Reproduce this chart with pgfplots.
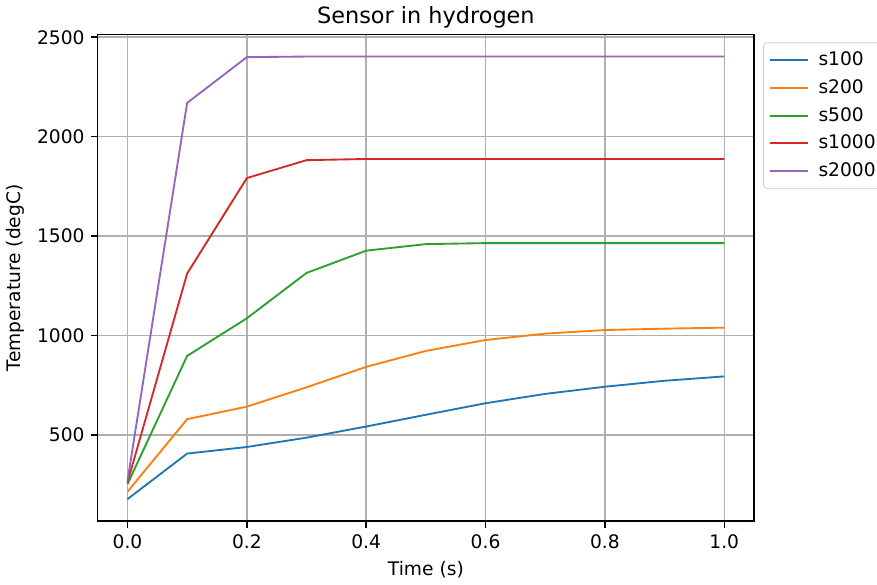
\documentclass[border=0pt]{standalone}
\usepackage{fontspec}
\setmainfont{DejaVu Sans}
\usepackage{pgfplots}
\pgfplotsset{compat=1.18}

\definecolor{c0}{HTML}{1F77B4}
\definecolor{c1}{HTML}{FF7F0E}
\definecolor{c2}{HTML}{2CA02C}
\definecolor{c3}{HTML}{D62728}
\definecolor{c4}{HTML}{9467BD}

\begin{document}
\begin{tikzpicture}
\begin{axis}[
    scale only axis,
    width=352pt, height=261pt,
    xmin=-0.05, xmax=1.05,
    ymin=67, ymax=2514,
    xtick={0,0.2,0.4,0.6,0.8,1.0},
    ytick={500,1000,1500,2000,2500},
    xticklabel style={/pgf/number format/.cd, fixed, fixed zerofill, precision=1},
    yticklabel style={/pgf/number format/.cd, 1000 sep={}},
    /pgf/number format/assume math mode=true,
    tick pos=left,
    tick align=outside,
    major tick length=3.5pt,
    tick style={black, line width=0.8pt},
    axis line style={black, line width=0.8pt},
    grid=major,
    major grid style={color=black!31, line width=0.8pt},
    title={Sensor in hydrogen},
    title style={font=\fontsize{12}{14}\selectfont, yshift=-6pt},
    xlabel={Time (s)},
    ylabel={Temperature (degC)},
    label style={font=\fontsize{10}{12}\selectfont},
    ticklabel style={font=\fontsize{10}{12}\selectfont},
    legend style={at={(1.0137,0.9836)}, anchor=north west,
        draw=black!20, rounded corners=2pt,
        font=\fontsize{10}{12}\selectfont,
        row sep=1.9pt, inner xsep=3pt, inner ysep=3pt},
    legend cell align=left,
    legend image code/.code={\draw[#1, line width=1.05pt] (0pt,0pt) -- (20.3pt,0pt);
        \path (23.5pt,0pt);},
]
\addplot[c0, line width=1pt] coordinates {
    (0.0,178) (0.1,407) (0.2,440) (0.3,487) (0.4,543) (0.5,602)
    (0.6,660) (0.7,707) (0.8,743) (0.9,773) (1.0,795)
};
\addlegendentry{s100}
\addplot[c1, line width=1pt] coordinates {
    (0.0,215) (0.1,580) (0.2,643) (0.3,740) (0.4,843) (0.5,923)
    (0.6,978) (0.7,1010) (0.8,1028) (0.9,1035) (1.0,1040)
};
\addlegendentry{s200}
\addplot[c2, line width=1pt] coordinates {
    (0.0,253) (0.1,898) (0.2,1087) (0.3,1315) (0.4,1427) (0.5,1460)
    (0.6,1465) (0.7,1465) (0.8,1465) (0.9,1465) (1.0,1465)
};
\addlegendentry{s500}
\addplot[c3, line width=1pt] coordinates {
    (0.0,262) (0.1,1312) (0.2,1792) (0.3,1882) (0.4,1888) (0.5,1888)
    (0.6,1888) (0.7,1888) (0.8,1888) (0.9,1888) (1.0,1888)
};
\addlegendentry{s1000}
\addplot[c4, line width=1pt] coordinates {
    (0.0,270) (0.1,2170) (0.2,2400) (0.3,2403) (0.4,2403) (0.5,2403)
    (0.6,2403) (0.7,2403) (0.8,2403) (0.9,2403) (1.0,2403)
};
\addlegendentry{s2000}
\end{axis}
% the legend is cut at the right edge, as in the original
\coordinate (bbsw) at (current bounding box.south west);
\coordinate (bbne) at (current bounding box.north east);
\pgfresetboundingbox
\useasboundingbox (bbsw) rectangle ([xshift=-4.5pt]bbne);
\end{tikzpicture}
\end{document}
